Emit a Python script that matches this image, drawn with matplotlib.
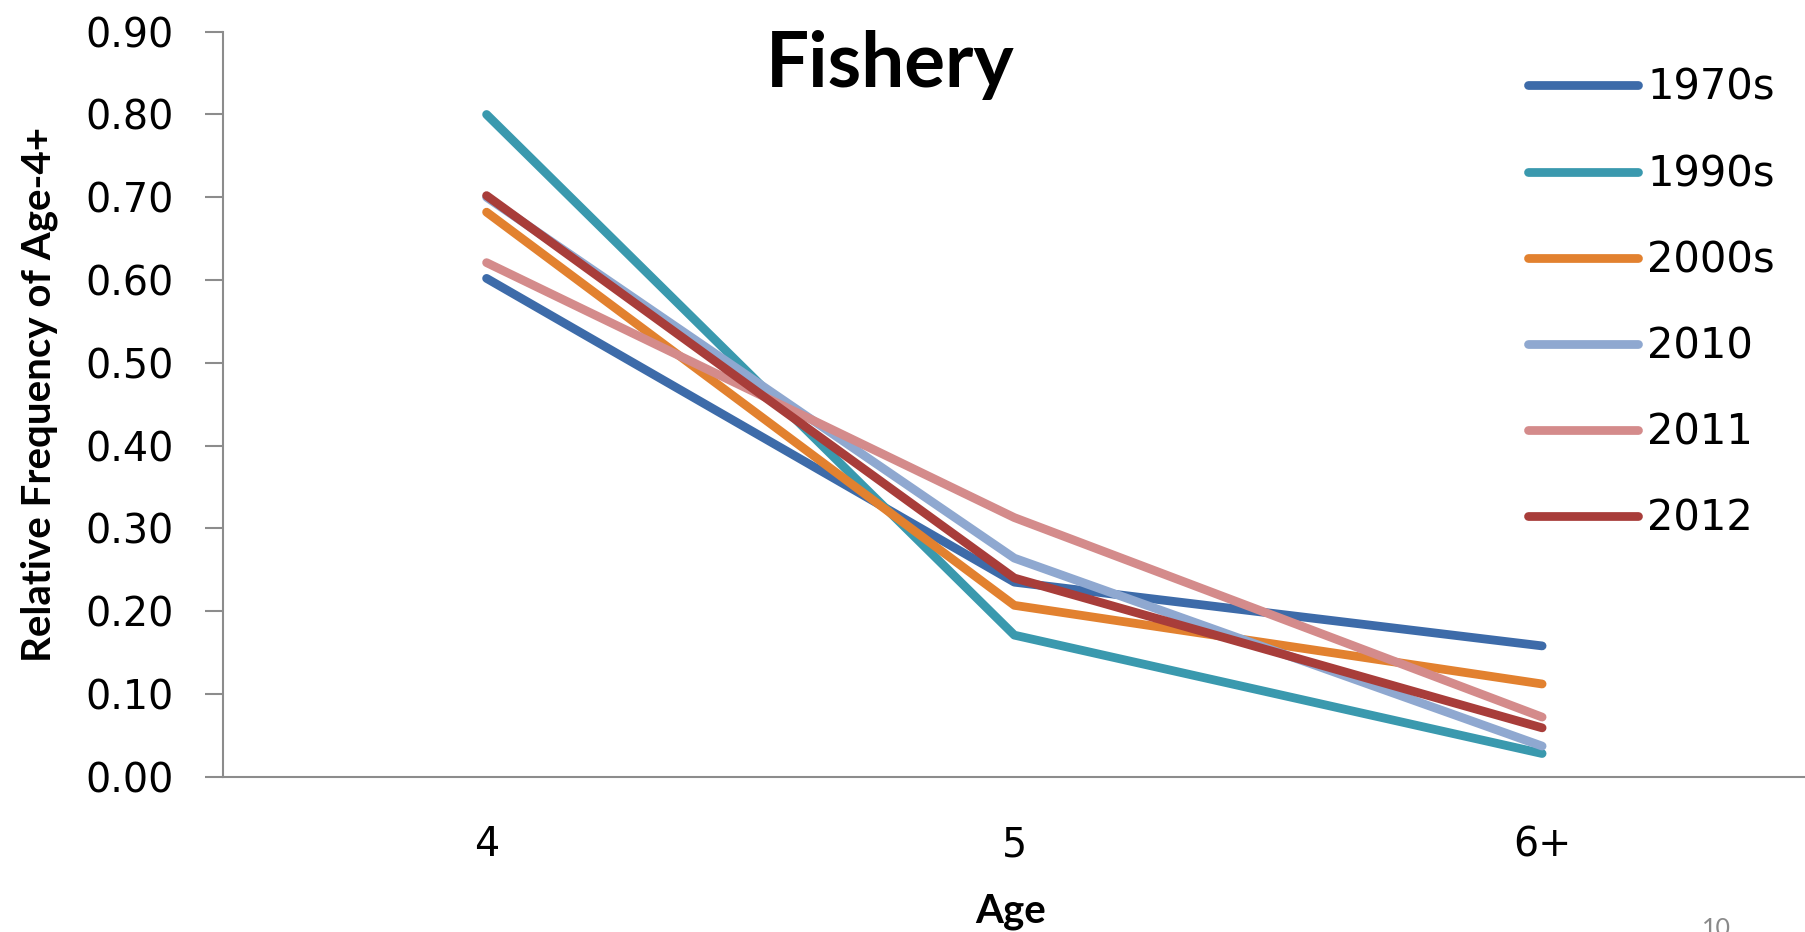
import matplotlib
matplotlib.use('Agg')
import matplotlib.pyplot as plt

# data
ages = ['4', '5', '6+']
series_names = ['1970s', '1990s', '2000s', '2010', '2011', '2012']
freq_1970s = [0.602, 0.235, 0.158]
freq_1990s = [0.800, 0.171, 0.028]
freq_2000s = [0.682, 0.207, 0.112]
freq_2010 = [0.700, 0.264, 0.037]
freq_2011 = [0.621, 0.313, 0.072]
freq_2012 = [0.702, 0.240, 0.059]
yticks = [0.0, 0.1, 0.2, 0.3, 0.4, 0.5, 0.6, 0.7, 0.8, 0.9]

colors = ['#3D6BA9', '#3A99AE', '#E2812F', '#8FA8D0', '#D48B8B', '#A83D3A']
all_series = [freq_1970s, freq_1990s, freq_2000s, freq_2010, freq_2011, freq_2012]

W, H = 1806, 932
fig = plt.figure(figsize=(W / 100, H / 100), dpi=100)
ax = fig.add_axes([222.7 / W, 1 - 776.7 / H, (1806 - 222.7) / W, (776.7 - 31.7) / H])

x = list(range(len(ages)))
for name, vals, c in zip(series_names, all_series, colors):
    ax.plot(x, vals, color=c, lw=6.3, solid_capstyle='round', label=name)

ax.set_xlim(-0.5, 2.5)
ax.set_ylim(0, 0.9)
ax.set_yticks(yticks)
ax.set_yticklabels(['%.2f' % v for v in yticks], fontsize=28.5, family='DejaVu Sans')
ax.set_xticks(x)
ax.set_xticklabels(ages, fontsize=28.5, family='DejaVu Sans')
ax.tick_params(axis='y', direction='out', length=13, width=1.5, color='#8c8c8c', pad=22)
ax.tick_params(axis='x', length=0, pad=35)

for s in ['top', 'right']:
    ax.spines[s].set_visible(False)
for s in ['left', 'bottom']:
    ax.spines[s].set_color('#8c8c8c')
    ax.spines[s].set_linewidth(1.5)

ax.set_ylabel('Relative Frequency of Age-4+', fontsize=29, fontweight='bold', family='Lato')
ax.yaxis.set_label_coords(-0.104, 0.513)
fig.text(1011 / W, 1 - 912 / H, 'Age', fontsize=29, fontweight='bold', family='Lato',
         ha='center', va='center')

fig.text(890 / W, 1 - 65 / H, 'Fishery', fontsize=55, fontweight='bold', family='Lato',
         ha='center', va='center')

fig.text(1716 / W, 1 - 917 / H, '10', fontsize=18, color='#8a8a8a', family='Lato',
         ha='center', va='top')

leg = ax.legend(loc='upper left', bbox_to_anchor=(1528 / W, 1 - 67 / H),
                bbox_transform=fig.transFigure, frameon=False, borderpad=0,
                borderaxespad=0, handlelength=2.64, handletextpad=0.22,
                labelspacing=1.06, prop={'family': 'DejaVu Sans', 'size': 30})

fig.savefig('out.png', dpi=100)
